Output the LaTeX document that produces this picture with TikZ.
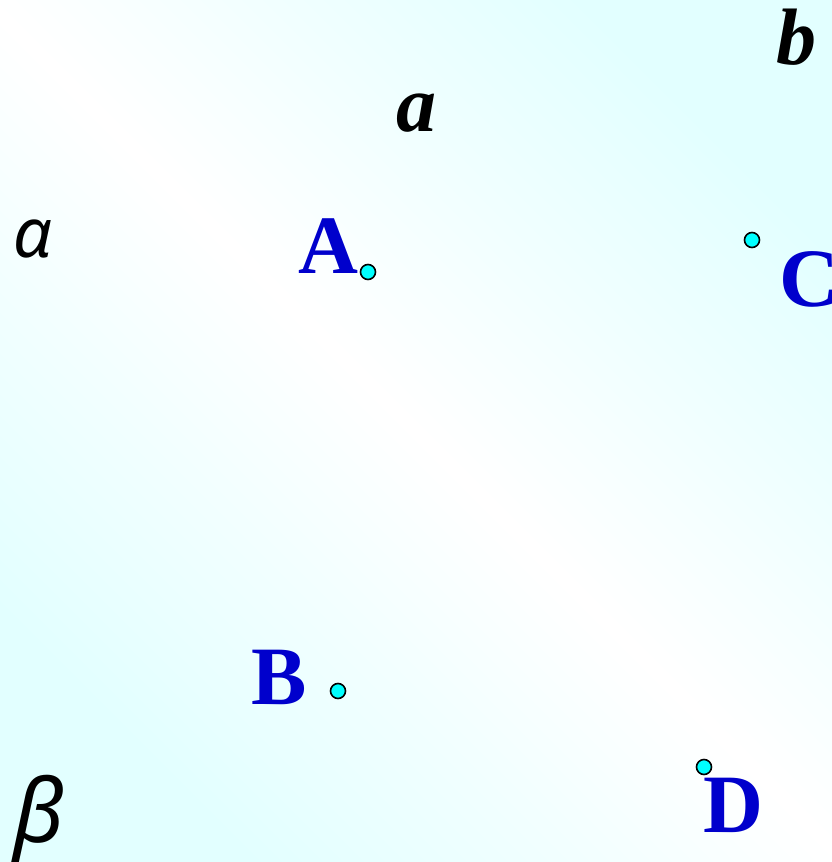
\documentclass[tikz,border=0pt]{standalone}
\usepackage{fontspec}
\setmainfont{Liberation Serif}
\newfontfamily\greekfont{Noto Sans}
\definecolor{bgcyan}{RGB}{226,255,255}
\definecolor{ptblue}{RGB}{0,0,204}
\definecolor{dotcyan}{RGB}{0,255,255}
\tikzset{
  ptlabel/.style={anchor=base west, inner sep=0pt, text=ptblue, font=\fontsize{83}{90}\selectfont\bfseries},
  linelabel/.style={anchor=base west, inner sep=0pt, text=black, font=\fontsize{80}{88}\selectfont\bfseries\itshape},
  planelabel/.style={anchor=base west, inner sep=0pt, text=black},
  ptdot/.style={circle, draw=black, fill=dotcyan, line width=1.6pt, minimum size=15pt, inner sep=0pt},
}
\begin{document}
\begin{tikzpicture}[x=1pt,y=-1pt]
\useasboundingbox (0,0) rectangle (832,862);
\clip (0,0) rectangle (832,862);
\shade[top color=bgcyan, bottom color=bgcyan, middle color=white, shading angle=-45] (0,0) rectangle (832,862);
% plane labels
\node[planelabel, font=\fontsize{69}{72}\selectfont\greekfont\itshape] (alpha) at (13,257) {α};
\node[planelabel, font=\fontsize{88}{92}\selectfont\greekfont\itshape] (beta) at (13,842) {β};
% line labels
\node[linelabel] (la) at (396,131) {a};
\node[linelabel] (lb) at (776,64) {b};
% points
\node[ptlabel] (A) at (298,273) {A};
\node[ptlabel] (B) at (251,704) {B};
\node[ptlabel] (C) at (779,306) {C};
\node[ptlabel] (D) at (703,832) {D};
\node[ptdot] (dA) at (368,272) {};
\node[ptdot] (dB) at (338,691) {};
\node[ptdot] (dC) at (752,240) {};
\node[ptdot] (dD) at (704,767) {};
\end{tikzpicture}
\end{document}
